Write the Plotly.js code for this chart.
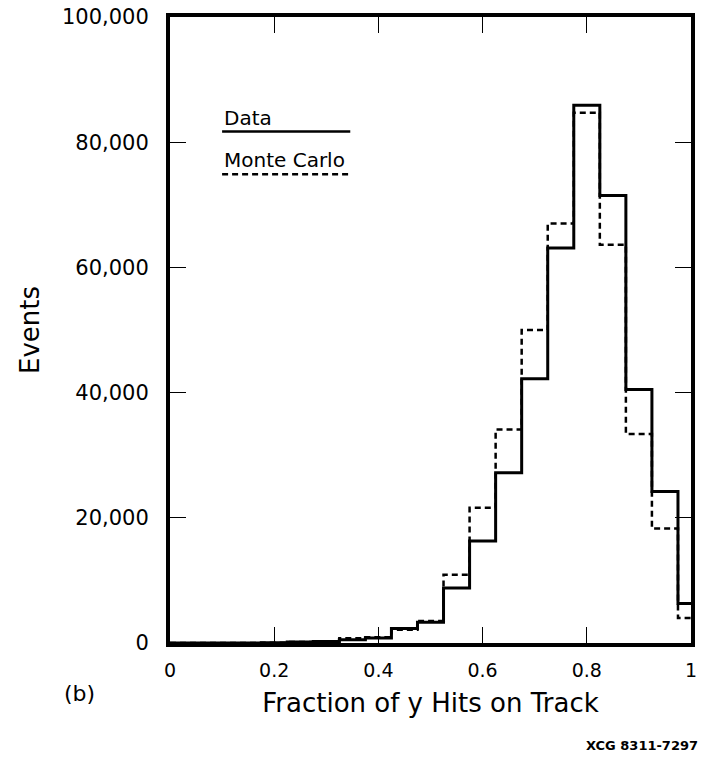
<!DOCTYPE html>
<html>
<head>
<meta charset="utf-8">
<script src="https://cdn.plot.ly/plotly-3.0.1.min.js"></script>
<style>
  html, body { margin: 0; padding: 0; background: #ffffff; }
  #chart { width: 707px; height: 758px; }
</style>
</head>
<body>
<div id="chart"></div>
<script>
// Bin centres (fraction of y hits on track), bin width 0.05
const binCenters = [0.20, 0.25, 0.30, 0.35, 0.40, 0.45, 0.50, 0.55, 0.60, 0.65, 0.70, 0.75, 0.80, 0.85, 0.90, 0.95, 1.00];
const binWidth = 0.05;
// Events per bin
const dataEvents  = [50, 150, 250, 500, 800, 2300, 3300, 8800, 16300, 27200, 42200, 63100, 85900, 71500, 40500, 24200, 6300];
const monteCarlo  = [50, 150, 250, 750, 900, 2100, 3500, 10900, 21600, 34100, 50000, 67000, 84700, 63600, 33400, 18300, 4000];
const xTickVals = [0, 0.2, 0.4, 0.6, 0.8, 1];
const yTickVals = [0, 20000, 40000, 60000, 80000, 100000];

function stepOutline(centers, values, w) {
  const xs = [0], ys = [0];
  for (let i = 0; i < centers.length; i++) {
    xs.push(centers[i] - w / 2);
    ys.push(values[i]);
  }
  const lastEdge = centers[centers.length - 1] + w / 2;
  xs.push(lastEdge); ys.push(values[values.length - 1]);
  xs.push(lastEdge); ys.push(0);
  return {x: xs, y: ys};
}

const dStep = stepOutline(binCenters, dataEvents, binWidth);
const mStep = stepOutline(binCenters, monteCarlo, binWidth);

const traces = [
  {
    type: 'scatter', mode: 'lines', name: 'Monte Carlo',
    x: mStep.x, y: mStep.y,
    line: {shape: 'hv', color: '#000', width: 2.5, dash: '6px,4px'},
    hoverinfo: 'skip', showlegend: false
  },
  {
    type: 'scatter', mode: 'lines', name: 'Data',
    x: dStep.x, y: dStep.y,
    line: {shape: 'hv', color: '#000', width: 3},
    hoverinfo: 'skip', showlegend: false
  }
];

const font = 'DejaVu Sans, Liberation Sans, Arial, sans-serif';

const layout = {
  width: 707, height: 758,
  margin: {l: 170, r: 16, t: 17, b: 115, pad: 0},
  paper_bgcolor: '#fff', plot_bgcolor: '#fff',
  showlegend: false,
  font: {family: font, color: '#000'},
  xaxis: {
    range: [0, 1], tickvals: xTickVals,
    ticks: 'inside', ticklen: 16, tickwidth: 1.3, tickcolor: '#000',
    showline: true, linewidth: 4, linecolor: '#000', mirror: 'ticks',
    showgrid: false, zeroline: false,
    tickfont: {family: font, size: 19, color: '#000'},
    ticklabelstandoff: 7,
    title: {text: 'Fraction of y Hits on Track', font: {family: font, size: 26, color: '#000'}, standoff: 15}
  },
  yaxis: {
    range: [0, 100000], tickvals: yTickVals, tickformat: ',d',
    ticks: 'inside', ticklen: 16, tickwidth: 1.3, tickcolor: '#000',
    showline: true, linewidth: 4, linecolor: '#000', mirror: 'ticks',
    showgrid: false, zeroline: false,
    tickfont: {family: font, size: 21, color: '#000'},
    ticklabelstandoff: 13,
    title: {text: 'Events', font: {family: font, size: 26, color: '#000'}, standoff: 16}
  },
  shapes: [
    {type: 'line', xref: 'paper', yref: 'paper', x0: 0.1, x1: 0.346, y0: 0.817, y1: 0.817,
     line: {color: '#000', width: 2.5}},
    {type: 'line', xref: 'paper', yref: 'paper', x0: 0.1, x1: 0.346, y0: 0.749, y1: 0.749,
     line: {color: '#000', width: 2.5, dash: '6px,4px'}}
  ],
  annotations: [
    {text: 'Data', xref: 'paper', yref: 'paper', x: 0.1, y: 0.839, xanchor: 'left', yanchor: 'middle',
     showarrow: false, font: {family: font, size: 20, color: '#000'}},
    {text: 'Monte Carlo', xref: 'paper', yref: 'paper', x: 0.1, y: 0.771, xanchor: 'left', yanchor: 'middle',
     showarrow: false, font: {family: font, size: 20, color: '#000'}},
    {text: '(b)', xref: 'paper', yref: 'paper', x: -0.1735, y: -0.0804, xanchor: 'center', yanchor: 'middle',
     showarrow: false, font: {family: font, size: 22, color: '#000'}},
    {text: '<b>XCG 8311-7297</b>', xref: 'paper', yref: 'paper', x: 1.017, y: -0.1635, xanchor: 'right', yanchor: 'middle',
     showarrow: false, font: {family: font, size: 13, color: '#000'}}
  ]
};

Plotly.newPlot('chart', traces, layout, {displayModeBar: false, staticPlot: true});
</script>
</body>
</html>
